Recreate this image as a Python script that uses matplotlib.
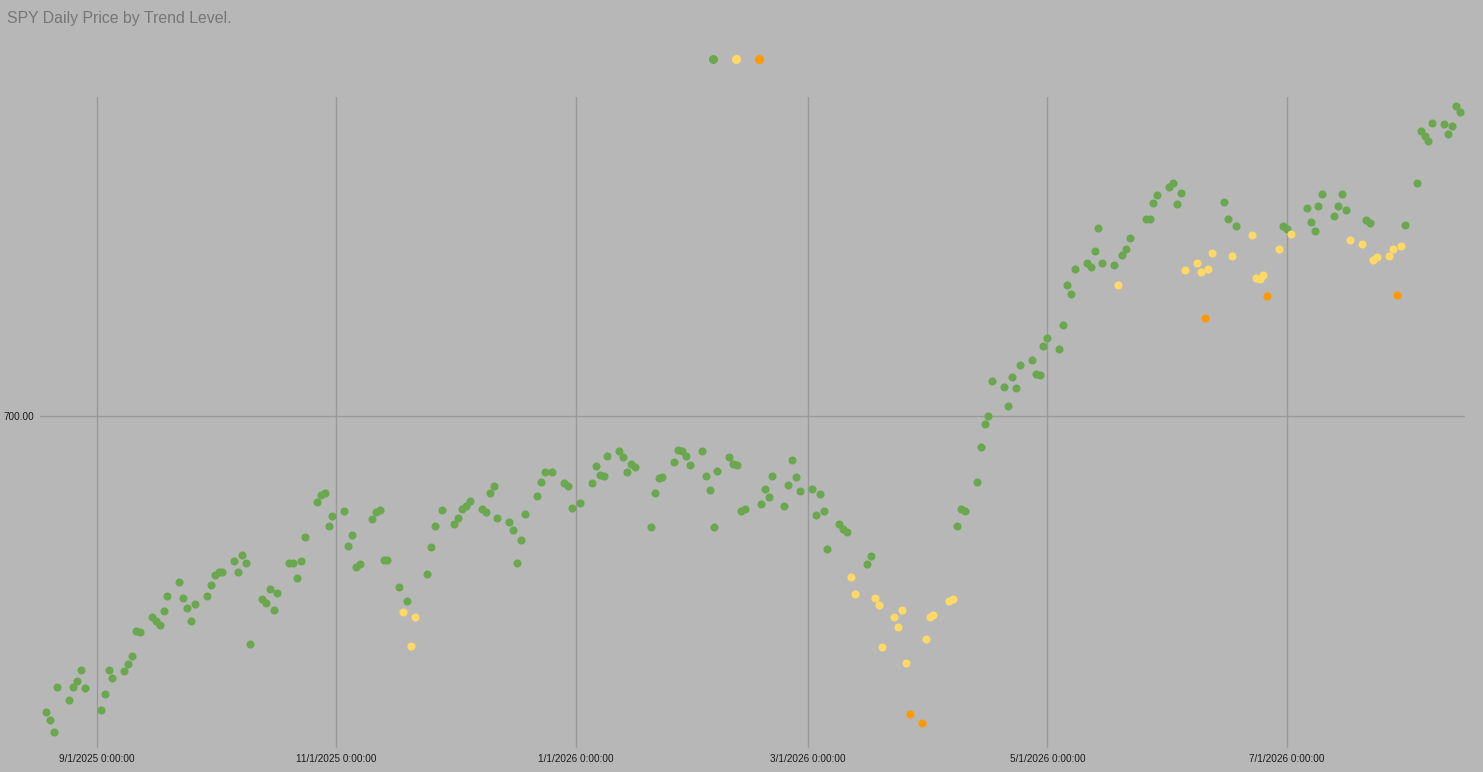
import matplotlib
matplotlib.use("Agg")
import matplotlib.pyplot as plt
from matplotlib.lines import Line2D
import pandas as pd

# trading days shown (NYSE calendar, Aug 19 2025 - Aug 14 2026)
holidays = ["2025-09-01", "2025-11-27", "2025-12-25", "2026-01-01", "2026-01-19",
            "2026-02-16", "2026-04-03", "2026-05-25", "2026-06-19", "2026-07-03"]
dates = pd.bdate_range("2025-08-19", "2026-08-14", freq="C", holidays=holidays)

# daily close
close = [
    # Aug 2025
    635.59, 633.85, 631.30, 641.02, 638.20, 640.96, 642.33, 644.65, 640.80,
    # Sep
    636.02, 639.50, 644.78, 642.98, 644.50, 646.02, 647.83, 653.13, 652.91, 656.30,
    655.37, 654.57, 657.61, 660.74, 663.78, 660.30, 658.26, 655.30, 659.00, 660.74, 663.13,
    # Oct
    665.30, 666.09, 666.02, 668.35, 665.96, 669.72, 667.91, 650.43, 660.22, 659.35,
    662.26, 657.83, 661.39, 667.98, 667.95, 664.65, 668.48, 673.63, 681.17, 682.83,
    683.13, 676.09, 678.20,
    # Nov
    679.39, 671.74, 674.00, 667.04, 667.70, 677.54, 679.07, 679.43, 668.70, 668.57,
    662.70, 657.26, 659.72, 649.93, 656.24, 665.59, 671.52, 675.96, 679.43,
    # Dec
    676.46, 677.70, 679.78, 680.37, 681.52, 679.65, 679.07, 683.26, 684.78, 677.87,
    676.93, 675.15, 668.04, 672.91, 678.67, 682.61, 685.52, 687.76, 687.74, 685.43,
    684.65, 679.87,
    # Jan 2026
    681.02, 685.30, 689.07, 687.04, 687.02, 691.17, 692.26, 690.96, 687.83, 689.50,
    688.91, 675.87, 683.13, 686.52, 686.74, 689.93, 692.48, 692.39, 691.17, 689.28,
    # Feb
    692.39, 686.96, 683.91, 675.87, 688.04, 691.02, 689.43, 689.22, 679.28, 679.78,
    680.80, 684.00, 682.26, 686.89, 680.37, 685.00, 690.37, 686.74, 683.70,
    # Mar
    684.07, 678.41, 682.91, 679.35, 670.96, 676.52, 675.43, 674.65, 664.87, 661.24,
    667.76, 669.43, 660.43, 658.85, 649.65, 656.30, 654.13, 657.70, 646.17, 635.22,
    633.13, 651.39,
    # Apr
    656.17, 656.74, 659.78, 660.09, 676.09, 679.72, 679.33, 685.52, 693.26, 698.26,
    699.87, 707.54, 706.24, 702.04, 708.48, 706.02, 710.96, 712.04, 709.00, 708.85,
    715.15,
    # May
    716.96, 714.57, 719.72, 728.48, 726.52, 731.83, 733.26, 732.26, 735.87, 740.87,
    733.13, 732.70, 728.41, 734.93, 736.17, 738.70, 742.83, 742.76, 746.30, 747.91,
    # Jun
    749.65, 750.52, 746.02, 748.41, 731.67, 733.13, 731.30, 721.17, 731.89, 735.30,
    746.52, 742.70, 734.65, 741.24, 739.28, 729.87, 729.65, 730.59, 725.96, 736.30,
    741.30,
    # Jul
    740.52, 739.57, 745.09, 742.11, 740.09, 745.52, 748.26, 743.35, 745.59, 748.13,
    744.65, 738.26, 737.26, 742.54, 741.83, 733.85, 734.50, 734.65, 736.24, 726.24,
    736.89, 741.52,
    # Aug
    750.52, 761.96, 760.74, 759.65, 763.57, 763.35, 761.30, 762.91, 767.39, 766.09,
]

# trend level per day: G = green, Y = yellow, O = orange
level = "".join([
    "GGGGGGGGG",                   # Aug 2025
    "G" * 21,                      # Sep
    "G" * 23,                      # Oct
    "GGGGGGGGGGGYGYYGGGG",         # Nov
    "G" * 22,                      # Dec
    "G" * 20,                      # Jan
    "G" * 19,                      # Feb
    "GGGGGGGGYYGGYYYYYYYOOY",      # Mar
    "YYYYGGGGGGGGGGGGGGGGG",       # Apr
    "GGGGGGGGGGGGYGGGGGGG",        # May
    "GGGGYYYOYYGGYGYYYYOYG",       # Jun
    "GYGGGGGGGGGYYGGYYYYOYG",      # Jul
    "G" * 10,                      # Aug
])

colors = {"G": "#6aa84f", "Y": "#ffd966", "O": "#ff9900"}
x_ticks = ["2025-09-01", "2025-11-01", "2026-01-01", "2026-03-01", "2026-05-01", "2026-07-01"]
y_ticks = [700]

bg = "#b7b7b7"
grid = "#999999"
font = ["Liberation Sans", "DejaVu Sans"]

df = pd.DataFrame({"date": dates, "close": close, "level": list(level)})

fig = plt.figure(figsize=(14.83, 7.72), dpi=100, facecolor=bg)
ax = fig.add_axes([40 / 1483, 24 / 772, 1425 / 1483, 651 / 772])
ax.set_facecolor(bg)

for key in ["G", "Y", "O"]:
    part = df[df["level"] == key]
    ax.scatter(part["date"], part["close"], s=34, color=colors[key], linewidths=0, zorder=3)

ax.set_xlim(dates[0] - pd.Timedelta(days=1.45), dates[-1] + pd.Timedelta(days=1.3))
ax.set_ylim(627.8, 769.3)

xt = pd.to_datetime(x_ticks)
ax.set_xticks(xt)
ax.set_xticklabels([f"{d.month}/{d.day}/{d.year} 0:00:00" for d in xt])
ax.set_yticks(y_ticks)
ax.set_yticklabels([f"{v:.2f}" for v in y_ticks])

ax.grid(True, color=grid, linewidth=1)
ax.set_axisbelow(True)
for s in ax.spines.values():
    s.set_visible(False)
ax.tick_params(length=0, colors="#1a1a1a", labelsize=7.2, pad=4)
for lab in ax.get_xticklabels() + ax.get_yticklabels():
    lab.set_fontfamily(font)

fig.text(7 / 1483, 1 - 18 / 772, "SPY Daily Price by Trend Level.", fontsize=11.4,
         color="#777777", family=font, va="center", ha="left")

handles = [Line2D([], [], linestyle="none", marker="o", markersize=6.5,
                  markerfacecolor=colors[k], markeredgewidth=0) for k in ["G", "Y", "O"]]
fig.legend(handles, ["", "", ""], loc="center", bbox_to_anchor=(736 / 1483, 1 - 60 / 772),
           ncol=3, frameon=False, handlelength=0.8, handletextpad=0, columnspacing=0.85)

fig.savefig("out.png", dpi=100, facecolor=bg)
